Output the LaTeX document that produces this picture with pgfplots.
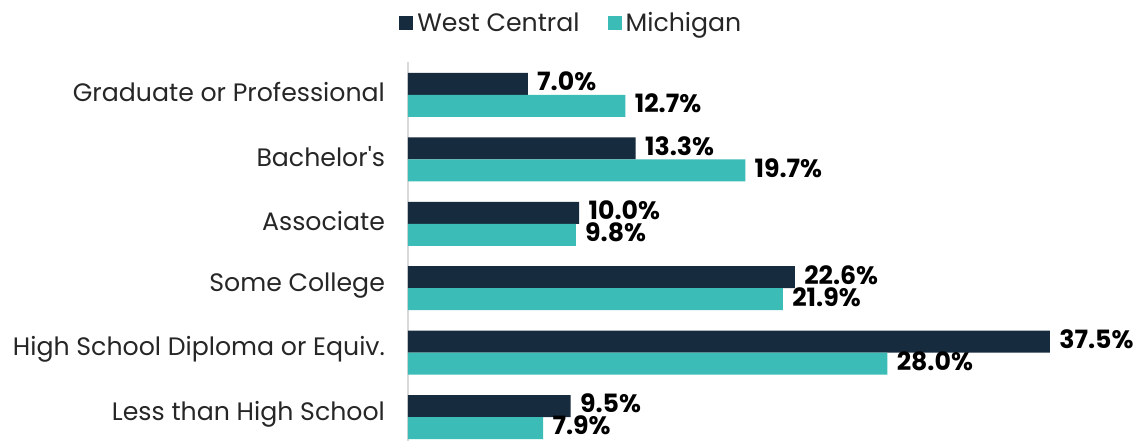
\documentclass[border=0pt]{standalone}
\usepackage{pgfplots}
\pgfplotsset{compat=1.18}
\usepackage{fontspec}
\setmainfont{Poppins}
\definecolor{navy}{HTML}{172B3E}
\definecolor{teal2}{HTML}{3CBCB6}
\definecolor{axgray}{HTML}{D9D9D9}
\definecolor{txt}{HTML}{262626}
\begin{document}
\begin{tikzpicture}
\begin{axis}[
  name=ax,
  scale only axis,
  width=342.4pt, height=189.5pt,
  xmin=0, xmax=40,
  ymin=-0.37, ymax=5.51,
  xbar, bar width=11pt,
  axis x line=none,
  axis y line*=left,
  axis line style={axgray, line width=1pt},
  ytick={0,1,2,3,4,5},
  yticklabels={Less than High School, High School Diploma or Equiv., Some College, Associate, Bachelor\textquotesingle s, Graduate or Professional},
  major tick length=0pt,
  yticklabel style={font=\fontsize{12.6}{14}\selectfont, text=txt, xshift=-8pt, yshift=1.5pt},
  /pgf/number format/assume math mode=true,
  nodes near coords={\pgfmathprintnumber[fixed,fixed zerofill,precision=1,assume math mode=true]{\pgfplotspointmeta}\%},
  nodes near coords style={font=\fontsize{12.6}{14}\selectfont\bfseries, text=black, anchor=west, inner sep=0pt, text height=8.8pt, text depth=0pt, xshift=4.5pt, yshift=1pt},
  clip=false,
  legend style={at={(0.24,1.102)}, anchor=center, draw=none, fill=none, legend columns=2,
    font=\fontsize{12.6}{14}\selectfont, text=txt,
    /tikz/every even column/.append style={column sep=12pt}},
  legend image code/.code={\fill[#1,draw=none] (0pt,-3.5pt) rectangle (7pt,3.5pt);},
]
\addplot[fill=navy, draw=none, bar shift=5.5pt] coordinates {(9.5,0) (37.5,1) (22.6,2) (10.0,3) (13.3,4) (7.0,5)};
\addlegendentry{West Central}
\addplot[fill=teal2, draw=none, bar shift=-5.5pt] coordinates {(7.9,0) (28.0,1) (21.9,2) (9.8,3) (19.7,4) (12.7,5)};
\addlegendentry{Michigan}
\end{axis}
\pgfresetboundingbox
\path[use as bounding box] ([xshift=-204pt]ax.south west) rectangle ([xshift=364pt,yshift=220.5pt]ax.south west);
\end{tikzpicture}
\end{document}
